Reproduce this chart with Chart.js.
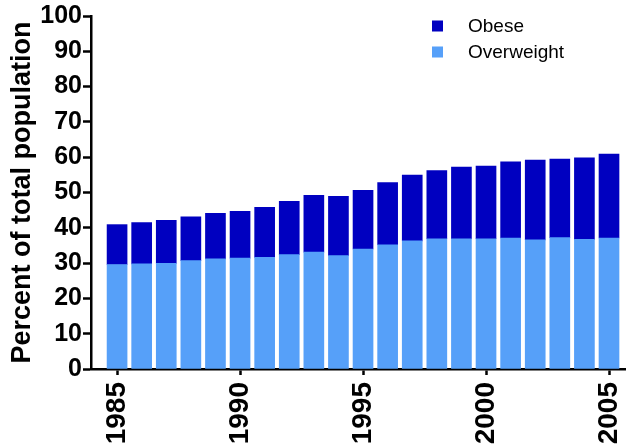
<!DOCTYPE html>
<html>
<head>
<meta charset="utf-8">
<script src="https://cdn.jsdelivr.net/npm/chart.js@4"></script>
<style>
  html, body { margin:0; padding:0; background:#fff; }
  #wrap { width:633px; height:447px; }
</style>
</head>
<body>
<div id="wrap"><canvas id="chart" width="633" height="447"></canvas></div>
<script>
  // data
  const years = [1985,1986,1987,1988,1989,1990,1991,1992,1993,1994,1995,1996,1997,1998,1999,2000,2001,2002,2003,2004,2005];
  const overweight = [29.6,29.8,29.9,30.7,31.2,31.4,31.6,32.4,33.1,32.1,34.0,35.2,36.3,36.9,36.9,36.9,37.1,36.6,37.2,36.7,37.1];
  const obese = [11.3,11.7,12.2,12.4,12.9,13.3,14.2,15.1,16.1,16.8,16.6,17.6,18.6,19.3,20.3,20.6,21.6,22.6,22.3,23.1,23.8];
  const xTicks = [1985,1990,1995,2000,2005];
  const yTicks = [0,10,20,30,40,50,60,70,80,90,100];

  const cObese = '#0000c0';
  const cOver  = '#56a0f9';
  const font = 'Arial, "Liberation Sans", Helvetica, sans-serif';

  // legend drawn inside the plot, top right
  const legendBox = {
    id: 'legendBox',
    afterDraw(chart){
      const ctx = chart.ctx;
      const items = [['Obese', cObese, 26], ['Overweight', cOver, 52]];
      ctx.save();
      ctx.font = '19px ' + font;
      ctx.textBaseline = 'middle';
      items.forEach(([txt, col, y])=>{
        ctx.fillStyle = col;
        ctx.fillRect(432, y-5.5, 11, 11);
        ctx.fillStyle = '#000';
        ctx.fillText(txt, 468, y+1);
      });
      ctx.restore();
    }
  };

  new Chart(document.getElementById('chart'), {
    type: 'bar',
    data: {
      datasets: [
        { label:'Overweight', data: years.map((y,i)=>({x:y, y:overweight[i]})), backgroundColor: cOver, barThickness: 20 },
        { label:'Obese', data: years.map((y,i)=>({x:y, y:obese[i]})), backgroundColor: cObese, barThickness: 20 }
      ]
    },
    options: {
      responsive:false,
      animation:false,
      layout:{ padding:{ left:6, right:8, top:0, bottom:0 } },
      plugins:{ legend:{display:false}, tooltip:{enabled:false} },
      scales:{
        x:{
          type:'linear', stacked:true, offset:false,
          min:1983.94, max:2005.65,
          afterBuildTicks: s=>{ s.ticks = xTicks.map(v=>({value:v})); },
          afterFit: s=>{ s.height = 78; s.paddingLeft = 0; s.paddingRight = 0; },
          border:{ display:true, color:'#000', width:2.5 },
          grid:{ offset:false, drawOnChartArea:false, color:'#000', tickLength:6, tickWidth:2.5 },
          ticks:{ autoSkip:false, maxRotation:90, minRotation:90, padding:7, color:'#000',
                  font:{ family:font, size:28, weight:'bold' }, callback:v=>String(v) }
        },
        y:{
          stacked:true, min:0, max:100,
          afterBuildTicks: s=>{ s.ticks = yTicks.map(v=>({value:v})); },
          afterFit: s=>{ s.width = 85; },
          border:{ display:true, color:'#000', width:2.5 },
          grid:{ drawOnChartArea:false, color:'#000', tickLength:8, tickWidth:2.5 },
          ticks:{ padding:1, color:'#000', font:{ family:font, size:25, weight:'bold' } },
          title:{ display:true, text:'Percent of total population', color:'#000', padding:0,
                  font:{ family:font, size:27, weight:'bold' } }
        }
      }
    },
    plugins:[legendBox]
  });
</script>
</body>
</html>
